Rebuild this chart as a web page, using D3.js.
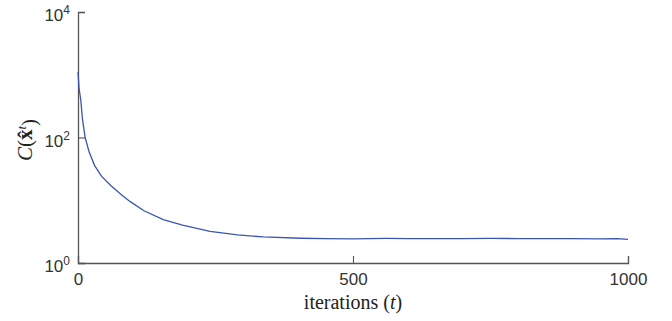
<!DOCTYPE html>
<html>
<head>
<meta charset="utf-8">
<script src="https://cdn.jsdelivr.net/npm/d3@7"></script>
<style>
  body { margin: 0; background: #fff; }
  .tick text { font-family: "Liberation Sans", Arial, sans-serif; }
</style>
</head>
<body>
<svg id="chart" width="672" height="321"></svg>
<script>
  // iteration numbers and cost values
  var iterations = [0, 2, 5, 8, 13, 20, 30, 43, 60, 80, 95, 120, 155, 190, 240, 290, 337, 404, 450, 500, 560, 600, 650, 700, 750, 800, 850, 900, 950, 980, 1000];
  var cost = [1100, 600, 400, 200, 100, 60, 36, 24, 17, 12, 9.5, 6.8, 4.9, 4.0, 3.2, 2.8, 2.6, 2.48, 2.45, 2.43, 2.46, 2.44, 2.45, 2.44, 2.47, 2.45, 2.44, 2.45, 2.43, 2.44, 2.38];
  var xTicks = [0, 500, 1000];
  var yTicks = [1, 100, 10000];
  var yTickExp = ["0", "2", "4"];

  var svg = d3.select("#chart");
  var margin = {left: 78, top: 12, right: 44, bottom: 58};
  var width = 672 - margin.left - margin.right,
      height = 321 - margin.top - margin.bottom;

  var x = d3.scaleLinear().domain([0, 1000]).range([0, width]);
  var y = d3.scaleLog().domain([1, 10000]).range([height, 0]);

  var g = svg.append("g")
    .attr("transform", "translate(" + margin.left + "," + margin.top + ")");

  var axisColor = "#555";

  // x axis, ticks pointing inward
  var xa = g.append("g")
    .attr("transform", "translate(0," + height + ")")
    .call(d3.axisBottom(x).tickValues(xTicks).tickSize(-7).tickPadding(10).tickFormat(d3.format("d")));
  xa.select(".domain").attr("stroke", axisColor).attr("stroke-width", 1.3);
  xa.selectAll(".tick line").attr("stroke", axisColor).attr("stroke-width", 1.1);
  xa.selectAll(".tick text").attr("fill", "#333").attr("font-size", "17px");

  // y axis, ticks pointing inward, labels as 10^n
  var ya = g.append("g")
    .call(d3.axisLeft(y).tickValues(yTicks).tickSize(-7).tickPadding(9).tickFormat(""));
  ya.select(".domain").attr("stroke", axisColor).attr("stroke-width", 1.3);
  ya.selectAll(".tick line").attr("stroke", axisColor).attr("stroke-width", 1.1);
  ya.selectAll(".tick").each(function(d, i){
    var t = d3.select(this).select("text")
      .attr("fill", "#333").attr("font-size", "17px")
      .attr("x", -8).attr("dy", "0.5em");
    t.append("tspan").text("10");
    t.append("tspan").attr("dy", "-0.55em").attr("font-size", "12px").text(yTickExp[i]);
  });

  // cost curve
  var line = d3.line()
    .x(function(d, i){ return x(iterations[i]); })
    .y(function(d){ return y(d); });

  g.append("path")
    .datum(cost)
    .attr("fill", "none")
    .attr("stroke", "#3a56b0")
    .attr("stroke-width", 1.3)
    .attr("d", line);

  // axis labels
  g.append("text")
    .attr("x", width / 2)
    .attr("y", height + 46)
    .attr("text-anchor", "middle")
    .attr("font-family", "'Liberation Serif', 'DejaVu Serif', serif")
    .attr("font-size", "20px")
    .attr("fill", "#222")
    .html('iterations (<tspan font-style="italic">t</tspan>)');

  var yl = svg.append("text")
    .attr("transform", "translate(32,140) rotate(-90)")
    .attr("text-anchor", "middle")
    .attr("font-family", "'Liberation Serif', 'DejaVu Serif', serif")
    .attr("font-size", "21px")
    .attr("fill", "#222");
  yl.append("tspan").attr("font-style", "italic").text("C");
  yl.append("tspan").text("(");
  yl.append("tspan").attr("font-weight", "bold").text("x\u0302");
  yl.append("tspan").attr("dy", "-0.5em").attr("font-size", "13px").attr("font-style", "italic").text("t");
  yl.append("tspan").attr("dy", "0.5em").text(")");
</script>
</body>
</html>
